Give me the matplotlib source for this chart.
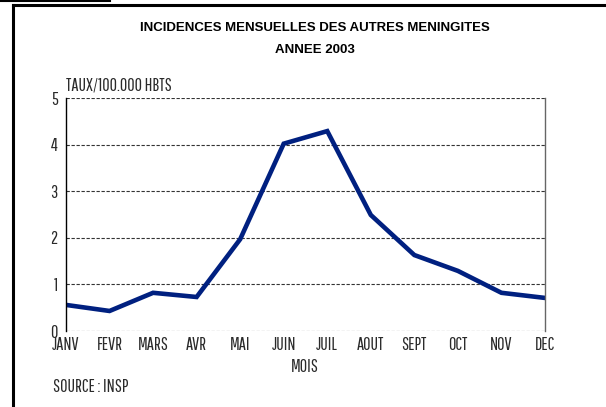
import matplotlib.pyplot as plt
from matplotlib.lines import Line2D

# data
months = ["JANV", "FEVR", "MARS", "AVR", "MAI", "JUIN", "JUIL", "AOUT", "SEPT", "OCT", "NOV", "DEC"]
taux = [0.56, 0.43, 0.82, 0.73, 1.97, 4.02, 4.29, 2.49, 1.63, 1.29, 0.82, 0.71]
y_ticks = [0, 1, 2, 3, 4, 5]

narrow = ["Pathway Gothic One", "Roboto Condensed", "DejaVu Sans"]
lab_size = 13
lab_w = "normal"
lab_c = "#2a2a2a"

fig = plt.figure(figsize=(6.06, 4.07), dpi=100)
ax = fig.add_axes([0.1089, 0.1867, 0.7904, 0.5725])

x = list(range(len(months)))
ax.plot(x, taux, color="#002080", linewidth=3.3, solid_joinstyle="miter")

ax.set_xlim(0, len(months) - 1)
ax.set_ylim(0, 5)
ax.set_xticks(x)
ax.set_xticklabels(months, family=narrow, fontsize=lab_size, fontweight=lab_w, color=lab_c)
ax.set_yticks(y_ticks)
ax.set_yticklabels([str(v) for v in y_ticks], family=narrow, fontsize=lab_size, fontweight=lab_w, color=lab_c)
ax.tick_params(length=0, pad=4)
ax.tick_params(axis="y", pad=6)

# dashed gridlines
for v in y_ticks:
    ax.axhline(v, color="#333333", linestyle=(0, (3, 1.5)), linewidth=0.8, zorder=0)

ax.spines["top"].set_visible(False)
ax.spines["bottom"].set_visible(False)
ax.spines["left"].set_color("black")
ax.spines["left"].set_linewidth(1.0)
ax.spines["right"].set_color("#666666")
ax.spines["right"].set_linewidth(1.0)

# titles and labels
fig.text(0.52, 0.93, "INCIDENCES MENSUELLES DES AUTRES MENINGITES",
         ha="center", va="center", fontsize=9.5, fontweight="bold", family="Liberation Sans")
fig.text(0.52, 0.877, "ANNEE 2003",
         ha="center", va="center", fontsize=9.5, fontweight="bold", family="Liberation Sans")
fig.text(66 / 606, 1 - 86 / 407, "TAUX/100.000 HBTS", ha="left", va="center",
         fontsize=lab_size, fontweight=lab_w, family=narrow, color=lab_c)
fig.text(305 / 606, 1 - 367 / 407, "MOIS", ha="center", va="center",
         fontsize=lab_size, fontweight=lab_w, family=narrow, color=lab_c)
fig.text(53 / 606, 1 - 387 / 407, "SOURCE : INSP", ha="left", va="center",
         fontsize=lab_size, fontweight=lab_w, family=narrow, color=lab_c)

# frame around the figure (left and top edges visible)
fig.add_artist(Line2D([13 / 606, 13 / 606], [0, 1 - 5 / 407], color="black", linewidth=2.2))
fig.add_artist(Line2D([13 / 606, 1], [1 - 5 / 407, 1 - 5 / 407], color="black", linewidth=2.2))
fig.add_artist(Line2D([0, 110 / 606], [1 - 1 / 407, 1 - 1 / 407], color="black", linewidth=1.5))

fig.savefig("out.png", dpi=100)
